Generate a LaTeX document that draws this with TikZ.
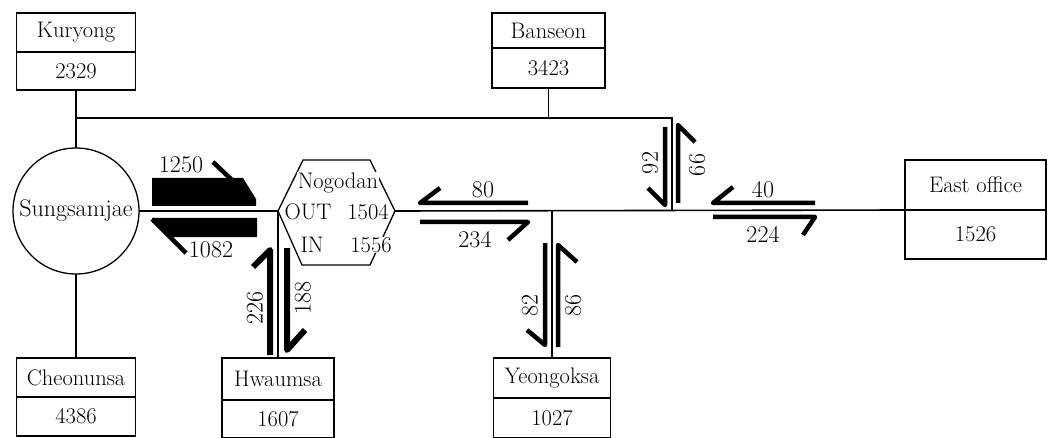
\documentclass[tikz,border=0pt]{standalone}
\usetikzlibrary{positioning}
\tikzset{
  stn/.style={draw, line width=1.3pt, inner sep=0pt, outer sep=0pt, font=\fontsize{22.5}{24}\selectfont},
  road/.style={line width=1.6pt},
  flow/.style={line width=4.5pt, line join=round},
  bigflow/.style={line width=6pt, line join=round},
  num/.style={font=\fontsize{24}{26}\selectfont, inner sep=1pt},
  nog/.style={font=\fontsize{22.5}{24}\selectfont, inner sep=0.5pt, fill=white},
}
\begin{document}
\begin{tikzpicture}[x=1pt,y=-1pt]
    \useasboundingbox (0,0) rectangle (1048,438);
    \node[stn, minimum width=119, minimum height=39] (kur) at (76,32.5) {Kuryong};
    \node[stn, minimum width=119, minimum height=38, below=0pt of kur] (kurv) {2329};
    \node[stn, minimum width=113, minimum height=35] (ban) at (548.5,30.5) {Banseon};
    \node[stn, minimum width=113, minimum height=40, below=0pt of ban] (banv) {3423};
    \node[stn, minimum width=119, minimum height=39] (che) at (76,377.5) {Cheonunsa};
    \node[stn, minimum width=119, minimum height=39, below=0pt of che] (chev) {4386};
    \node[stn, minimum width=112, minimum height=42] (hwa) at (278,379) {Hwaumsa};
    \node[stn, minimum width=112, minimum height=38, below=0pt of hwa] (hwav) {1607};
    \node[stn, minimum width=117, minimum height=40] (yeo) at (552,378) {Yeongoksa};
    \node[stn, minimum width=117, minimum height=40, below=0pt of yeo] (yeov) {1027};
    \node[stn, minimum width=141, minimum height=50] (eas) at (975.5,185) {East office};
    \node[stn, minimum width=141, minimum height=49, below=0pt of eas] (easv) {1526};
    \node[stn, circle, minimum size=126, font=\fontsize{24}{26}\selectfont] (sung) at (76,211) {Sungsamjae};
    \coordinate (kj) at (76,118);
    \coordinate (bj) at (672,118);
    \coordinate (bm) at (672,211);
    \coordinate (yj) at (552,211);
    \coordinate (nogW) at (278,211);
    \coordinate (nogE) at (395,211);
    \draw[road] (kurv.south) -- (sung.north);
    \draw[road] (sung.south) -- (che.north);
    \draw[road] (kj) -- (bj) -- (bm);
    \draw[road] (banv.south) -- (banv.south |- kj);
    \draw[road] (sung.east) -- (nogW) -- (hwa.north);
    \draw[road] (nogE) -- (eas.south west);
    \draw[road] (yj) -- (yeo.north);
    \draw[line width=1.3pt] (303,160) -- (370,160) -- (nogE) -- (370,265) -- (302,265) -- (nogW) -- cycle;
    \node[nog] (nogn) at (338,183) {Nogodan};
    \node[nog] (nogo) at (308,212) {OUT};
    \node[nog] (nogov) at (368,212) {1504};
    \node[nog] (nogi) at (312,245) {IN};
    \node[nog] (nogiv) at (371,245) {1556};
    \fill (152,178) -- (243,178) -- (256,199) -- (256,206) -- (152,206) -- cycle;
    \draw[flow] (213,162) -- (254,201);
    \fill (152,218) -- (257,218) -- (257,237) -- (170,237) -- (152,222) -- cycle;
    \draw[flow] (152,219) -- (186,253);
    \draw[bigflow] (253,267) -- (270,250) -- (270,355);
    \draw[bigflow] (287,248) -- (287,350) -- (305,330);
    \draw[flow] (440,188) -- (420,203) -- (528,203);
    \draw[flow] (420,222) -- (528,222) -- (508,240);
    \draw[flow] (733,187) -- (713,203) -- (815,203);
    \draw[flow] (713,217) -- (815,217) -- (803,235);
    \draw[flow] (665,127) -- (665,205) -- (648,188);
    \draw[flow] (695,142) -- (678,125) -- (678,203);
    \draw[flow] (545,243) -- (545,345) -- (527,330);
    \draw[flow] (577,262) -- (558,245) -- (558,347);
    \node[num] (f1250) at (181,165) {1250};
    \node[num] (f1082) at (211,250) {1082};
    \node[num] (f80) at (483,190) {80};
    \node[num] (f234) at (475,240) {234};
    \node[num] (f40) at (763,190) {40};
    \node[num] (f224) at (763,234) {224};
    \node[num, rotate=90] (f226) at (255,308) {226};
    \node[num, rotate=90] (f188) at (303,298) {188};
    \node[num, rotate=90] (f82) at (530,305) {82};
    \node[num, rotate=90] (f86) at (573,305) {86};
    \node[num, rotate=90] (f92) at (650,163) {92};
    \node[num, rotate=90] (f66) at (697,165) {66};
\end{tikzpicture}
\end{document}
